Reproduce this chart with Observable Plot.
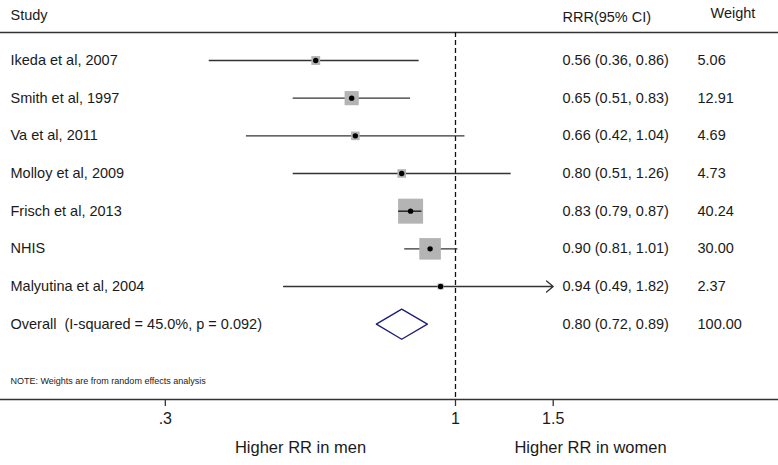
<!DOCTYPE html>
<html>
<head>
<meta charset="utf-8">
<script src="https://cdn.jsdelivr.net/npm/d3@7"></script>
<script src="https://cdn.jsdelivr.net/npm/@observablehq/plot@0.6"></script>
<style>
  html, body { margin: 0; padding: 0; background: #fff; }
  svg text { white-space: pre; }
</style>
</head>
<body>
<div id="chart"></div>
<script>
// ---- data ----
const studies = ["Ikeda et al, 2007", "Smith et al, 1997", "Va et al, 2011", "Molloy et al, 2009",
                 "Frisch et al, 2013", "NHIS", "Malyutina et al, 2004"];
const rrr     = [0.56, 0.65, 0.66, 0.80, 0.83, 0.90, 0.94];
const lower   = [0.36, 0.51, 0.42, 0.51, 0.79, 0.81, 0.49];
const upper   = [0.86, 0.83, 1.04, 1.26, 0.87, 1.01, 1.82];
const weights = [5.06, 12.91, 4.69, 4.73, 40.24, 30.00, 2.37];
const overallLabel = "Overall  (I-squared = 45.0%, p = 0.092)";
const overallEst = 0.80, overallLo = 0.72, overallHi = 0.89, overallWeight = 100.00;
const xTicks = [0.3, 1, 1.5];
const headers = ["Study", "RRR(95% CI)", "Weight"];
const leftLabel = "Higher RR in men", rightLabel = "Higher RR in women";
const note = "NOTE: Weights are from random effects analysis";

// ---- build table ----
const rows = studies.map((s, i) => ({row: i + 1, study: s, est: rrr[i], lo: lower[i], hi: upper[i], w: weights[i]}));
const overallRow = rows.length + 1;
const xMaxTick = d3.max(xTicks);
const W = 778, H = 465;
const xDomain = [0.1514, 3.82];
const boxMax = 25; // px side of largest box
const maxW = d3.max(weights);
const xs = d3.scaleLog().domain(xDomain).range([0, W]);
const fits = d => (xs(d.hi) - xs(d.lo)) <= boxMax * Math.sqrt(d.w / maxW);
const fmt = v => v.toFixed(2);
const textRows = rows.map(d => ({row: d.row, label: d.study, ci: `${fmt(d.est)} (${fmt(d.lo)}, ${fmt(d.hi)})`, wt: fmt(d.w)}))
  .concat([{row: overallRow, label: overallLabel, ci: `${fmt(overallEst)} (${fmt(overallLo)}, ${fmt(overallHi)})`, wt: fmt(overallWeight)}]);
const half = 0.4;
const diamond = [
  {x: overallLo, y: overallRow}, {x: overallEst, y: overallRow - half},
  {x: overallHi, y: overallRow}, {x: overallEst, y: overallRow + half},
  {x: overallLo, y: overallRow}
];

const ink = "#333";
const txt = "#1a1a1a";

const chart = Plot.plot({
  width: W, height: H,
  marginTop: 0, marginRight: 0, marginBottom: 66, marginLeft: 0,
  style: {fontFamily: "'Liberation Sans', Arial, sans-serif", background: "#fff", color: txt, overflow: "visible"},
  x: {type: "log", domain: xDomain},
  y: {domain: [-0.593, 10], reverse: true, axis: null},
  r: {type: "sqrt", domain: [0, maxW], range: [0, boxMax / Math.sqrt(Math.PI)]},
  marks: [
    // header rule and axis line
    Plot.ruleY([0.257], {stroke: ink, strokeWidth: 1.5}),
    Plot.ruleY([10], {stroke: ink, strokeWidth: 1.5}),
    // null line
    Plot.ruleX([1], {y1: 0.257, y2: 10, stroke: "#111", strokeWidth: 1.3, strokeDasharray: "5,3"}),
    // CI lines
    Plot.ruleY(rows.filter(d => d.hi <= xMaxTick), {y: "row", x1: "lo", x2: "hi", stroke: ink, strokeWidth: 1.3}),
    Plot.arrow(rows.filter(d => d.hi > xMaxTick), {y1: "row", y2: "row", x1: "lo", x2: () => xMaxTick,
      stroke: ink, strokeWidth: 1.3, headLength: 10, headAngle: 80}),
    // weight boxes
    Plot.dot(rows, {x: "est", y: "row", r: "w", symbol: "square", fill: "#b4b4b4", stroke: null}),
    // CIs that fit inside the box are drawn on top
    Plot.ruleY(rows.filter(fits), {y: "row", x1: "lo", x2: "hi", stroke: "#111", strokeWidth: 1.3}),
    // point estimates
    Plot.dot(rows, {x: "est", y: "row", r: 2.7, fill: "#000", stroke: null}),
    // overall diamond
    Plot.line(diamond, {x: "x", y: "y", stroke: "#1c1c78", strokeWidth: 1.3, fill: "none"}),
    // x axis
    Plot.axisX({ticks: xTicks, tickSize: 7, tickPadding: 6, fontSize: 16, label: null,
      tickFormat: d => d < 1 ? String(d).replace(/^0/, "") : String(d), stroke: ink, strokeWidth: 1.3}),
    // headers
    Plot.text([headers[0]], {frameAnchor: "top-left", dx: 10, dy: 9, text: d => d, textAnchor: "start", fontSize: 14.5, fill: txt}),
    Plot.text([headers[1]], {frameAnchor: "top-left", dx: 562, dy: 11, text: d => d, textAnchor: "start", fontSize: 14.5, fill: txt}),
    Plot.text([headers[2]], {frameAnchor: "top-left", dx: 710, dy: 7, text: d => d, textAnchor: "start", fontSize: 14.5, fill: txt}),
    // row text columns
    Plot.text(textRows, {frameAnchor: "left", dx: 10, y: "row", text: "label", textAnchor: "start", fontSize: 14.5, fill: txt}),
    Plot.text(textRows, {frameAnchor: "left", dx: 562, y: "row", text: "ci", textAnchor: "start", fontSize: 14.5, fill: txt}),
    Plot.text(textRows, {frameAnchor: "left", dx: 697, y: "row", text: "wt", textAnchor: "start", fontSize: 14.5, fill: txt}),
    // note
    Plot.text([note], {frameAnchor: "left", dx: 10, y: 9.5, text: d => d, textAnchor: "start", fontSize: 9, fill: txt}),
    // favour labels
    Plot.text([leftLabel], {frameAnchor: "bottom-left", dx: 300, dy: 53, text: d => d, textAnchor: "middle", fontSize: 16.5, fill: txt}),
    Plot.text([rightLabel], {frameAnchor: "bottom-left", dx: 590, dy: 53, text: d => d, textAnchor: "middle", fontSize: 16.5, fill: txt})
  ]
});
document.getElementById("chart").appendChild(chart);
</script>
</body>
</html>
